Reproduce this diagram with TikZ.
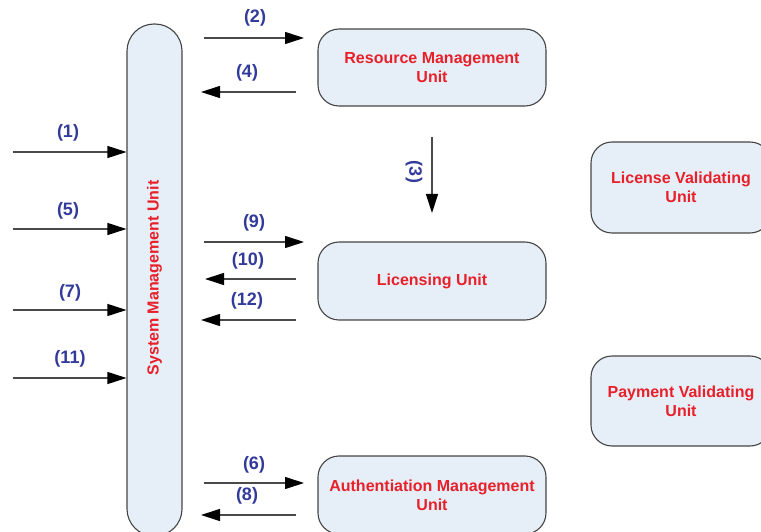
\documentclass[tikz,border=0pt]{standalone}
\usepackage{fontspec}
\setmainfont{Liberation Sans}
\usetikzlibrary{arrows.meta}
\definecolor{boxfill}{HTML}{E6EEF8}
\definecolor{boxline}{HTML}{454545}
\definecolor{unitred}{HTML}{E8202A}
\definecolor{stepblue}{HTML}{323A9A}
\definecolor{flowline}{HTML}{4A4A4A}
\tikzset{
  unitfont/.style={font=\bfseries\fontsize{16}{19}\selectfont},
  unit/.style={draw=boxline, line width=1.1pt, fill=boxfill, rounded corners=21pt,
    text=unitred, unitfont, align=center, inner sep=0pt},
  flow/.style={draw=flowline, line width=1.1pt,
    -{Triangle[length=19pt, width=12pt, black]}},
  steplabel/.style={text=stepblue, font=\bfseries\fontsize{18}{21}\selectfont, inner sep=0pt}
}
\begin{document}
\begin{tikzpicture}[x=1pt, y=1pt]
\useasboundingbox (0,0) rectangle (761,531);
\begin{scope}
\clip (0,0) rectangle (761,531);

% system management unit (tall pill on the left)
\node[unit, rounded corners=27pt, minimum width=55pt, minimum height=512pt] (smu) at (154.5,251) {};
\node[text=unitred, unitfont, rotate=90] (smutext) at (154.5,253) {System Management Unit};

% service units
\node[unit, minimum width=228pt, minimum height=77pt] (rmu) at (432,463.5) {Resource Management\\Unit};
\node[unit, minimum width=228pt, minimum height=78pt] (lu) at (432,250) {Licensing Unit};
\node[unit, minimum width=228pt, minimum height=78pt] (amu) at (432,36) {Authentiation Management\\Unit};
\node[unit, minimum width=180pt, minimum height=91pt] (lvu) at (681,343.5) {License Validating\\Unit};
\node[unit, minimum width=180pt, minimum height=90pt] (pvu) at (681,130) {Payment Validating\\Unit};

% free ends of the message arrows
\coordinate (in1) at (13,379);
\coordinate (in5) at (13,302);
\coordinate (in7) at (13,221);
\coordinate (in11) at (13,153);
\coordinate (s2) at (204,493);  \coordinate (e2) at (304,493);
\coordinate (s4) at (296,439);  \coordinate (e4) at (201,439);
\coordinate (s9) at (204,289);  \coordinate (e9) at (304,289);
\coordinate (s10) at (296,252); \coordinate (e10) at (205,252);
\coordinate (s12) at (296,211); \coordinate (e12) at (201,211);
\coordinate (s6) at (204,48);   \coordinate (e6) at (304,48);
\coordinate (s8) at (296,16);   \coordinate (e8) at (201,16);
\coordinate (s3) at (432,394);  \coordinate (e3) at (432,318);

% incoming requests
\draw[flow] (in1) -- (in1 -| smu.west);
\draw[flow] (in5) -- (in5 -| smu.west);
\draw[flow] (in7) -- (in7 -| smu.west);
\draw[flow] (in11) -- (in11 -| smu.west);

% exchanges with the units
\draw[flow] (s2) -- (e2);
\draw[flow] (s4) -- (e4);
\draw[flow] (s9) -- (e9);
\draw[flow] (s10) -- (e10);
\draw[flow] (s12) -- (e12);
\draw[flow] (s6) -- (e6);
\draw[flow] (s8) -- (e8);
\draw[flow] (s3) -- (e3);

% step numbers
\node[steplabel] (l1) at (68,398) {(1)};
\node[steplabel] (l5) at (68,320) {(5)};
\node[steplabel] (l7) at (70,238) {(7)};
\node[steplabel] (l11) at (70,172) {(11)};
\node[steplabel] (l2) at (255,513) {(2)};
\node[steplabel] (l4) at (247,458) {(4)};
\node[steplabel] (l9) at (254,308) {(9)};
\node[steplabel] (l10) at (248,270) {(10)};
\node[steplabel] (l12) at (247,230) {(12)};
\node[steplabel] (l6) at (254,66) {(6)};
\node[steplabel] (l8) at (247,35) {(8)};
\node[steplabel, rotate=-90] (l3) at (414,359) {(3)};
\end{scope}
\end{tikzpicture}
\end{document}
